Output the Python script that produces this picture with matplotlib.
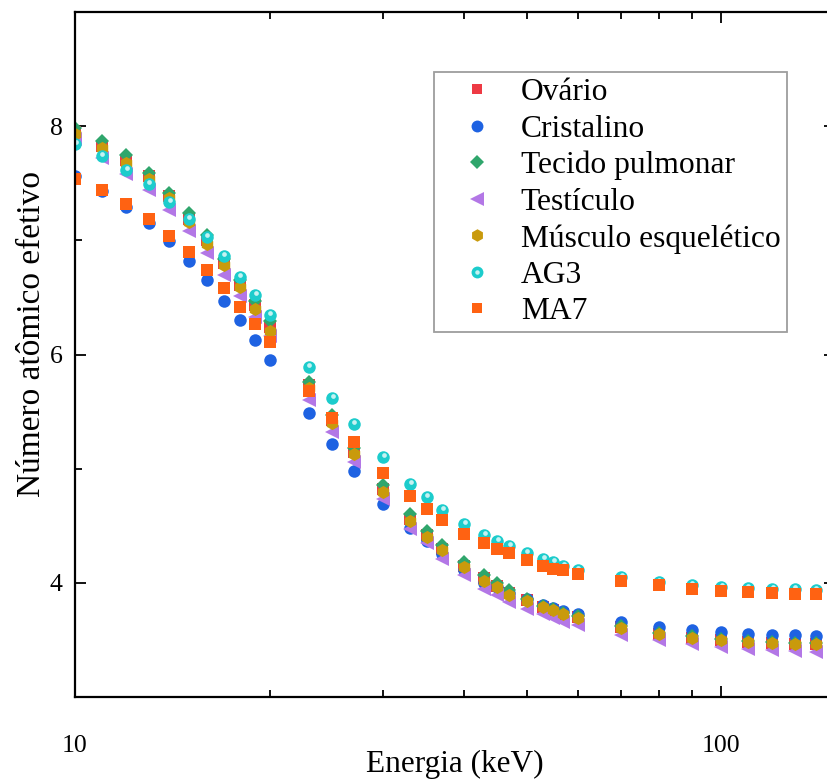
import matplotlib
matplotlib.use("Agg")
import matplotlib.pyplot as plt
from matplotlib.ticker import FixedLocator, NullFormatter, FixedFormatter
from matplotlib.transforms import offset_copy
from matplotlib.legend_handler import HandlerTuple

plt.rcParams['font.family'] = ['Liberation Serif', 'DejaVu Serif']

energia = [10, 11, 12, 13, 14, 15, 16, 17, 18, 19, 20, 23, 25, 27, 30, 33, 35, 37,
           40, 43, 45, 47, 50, 53, 55, 57, 60, 70, 80, 90, 100, 110, 120, 130, 140]

ovario = [7.95, 7.83, 7.70, 7.56, 7.39, 7.19, 7.00, 6.80, 6.61, 6.43, 6.24, 5.73, 5.43,
          5.15, 4.82, 4.56, 4.42, 4.30, 4.15, 4.04, 3.97, 3.91, 3.85, 3.79, 3.76, 3.73,
          3.70, 3.61, 3.55, 3.52, 3.50, 3.485, 3.475, 3.465, 3.46]
cristalino = [7.56, 7.43, 7.29, 7.15, 6.99, 6.82, 6.65, 6.47, 6.30, 6.13, 5.95, 5.485,
              5.22, 4.98, 4.69, 4.48, 4.37, 4.25, 4.11, 4.00, 3.96, 3.91, 3.86, 3.81,
              3.78, 3.75, 3.73, 3.66, 3.61, 3.585, 3.57, 3.555, 3.54, 3.54, 3.535]
tecido_pulmonar = [7.985, 7.87, 7.745, 7.59, 7.415, 7.24, 7.05, 6.84, 6.65, 6.47, 6.29,
                   5.76, 5.47, 5.18, 4.86, 4.60, 4.45, 4.33, 4.18, 4.07, 4.00, 3.94,
                   3.86, 3.80, 3.77, 3.74, 3.71, 3.62, 3.56, 3.53, 3.51, 3.49, 3.48,
                   3.47, 3.47]
testiculo = [7.89, 7.72, 7.58, 7.44, 7.27, 7.08, 6.89, 6.70, 6.51, 6.33, 6.16, 5.60, 5.32,
             5.06, 4.73, 4.47, 4.345, 4.21, 4.07, 3.95, 3.89, 3.83, 3.77, 3.73, 3.69,
             3.66, 3.63, 3.54, 3.50, 3.46, 3.44, 3.42, 3.41, 3.40, 3.395]
musculo = [7.93, 7.81, 7.68, 7.54, 7.37, 7.16, 6.97, 6.78, 6.59, 6.40, 6.21, 5.71, 5.40,
           5.13, 4.80, 4.54, 4.40, 4.29, 4.14, 4.02, 3.96, 3.89, 3.84, 3.79, 3.76, 3.73,
           3.69, 3.605, 3.55, 3.52, 3.50, 3.48, 3.47, 3.46, 3.46]
ag3 = [7.84, 7.74, 7.62, 7.49, 7.34, 7.19, 7.03, 6.86, 6.68, 6.52, 6.35, 5.89, 5.62, 5.39,
       5.10, 4.87, 4.75, 4.64, 4.515, 4.42, 4.37, 4.32, 4.26, 4.21, 4.18, 4.15, 4.11,
       4.05, 4.01, 3.98, 3.965, 3.955, 3.95, 3.945, 3.94]
ma7 = [7.535, 7.44, 7.32, 7.19, 7.04, 6.90, 6.74, 6.58, 6.42, 6.27, 6.11, 5.68, 5.44, 5.23,
       4.965, 4.76, 4.65, 4.55, 4.43, 4.345, 4.30, 4.26, 4.20, 4.15, 4.125, 4.11, 4.08,
       4.015, 3.98, 3.945, 3.93, 3.92, 3.91, 3.905, 3.905]

labels = ["Ovário", "Cristalino", "Tecido pulmonar", "Testículo",
          "Músculo esquelético", "AG3", "MA7"]
x_major = [10, 100]
x_major_labels = ["10", "100"]
y_major = [4, 6, 8]

fig = plt.figure(figsize=(8.28, 7.81), dpi=100)
ax = fig.add_axes([75 / 828, 84 / 781, 760 / 828, 685 / 781])

styles = [
    dict(marker='s', color='#ee3a44', ms=8.0),
    dict(marker='o', color='#1e62e2', ms=9.0),
    dict(marker='D', color='#2fa66c', ms=7.5),
    dict(marker='<', color='#b377e6', ms=10.0),
    dict(marker='h', color='#c99a0c', ms=9.5),
    dict(marker='o', color='#1ccccc', ms=9.0),
    dict(marker='s', color='#ff6212', ms=8.0),
]
series = [ovario, cristalino, tecido_pulmonar, testiculo, musculo, ag3, ma7]

handles = []
for vals, st in zip(series, styles):
    h, = ax.plot(energia, vals, linestyle='none', marker=st['marker'], ms=st['ms'],
                 color=st['color'], markeredgewidth=0)
    handles.append(h)
    if vals is ag3:
        hl, = ax.plot(energia, vals, linestyle='none', marker='o', ms=3.4,
                      color='white', alpha=0.75, markeredgewidth=0,
                      transform=offset_copy(ax.transData, fig=fig, x=0.5, y=2.0, units='dots'))
        handles[-1] = (h, hl)

ax.set_xscale('log')
ax.set_xlim(10, 150)
ax.set_ylim(3, 9)

ax.xaxis.set_major_locator(FixedLocator(x_major))
ax.xaxis.set_major_formatter(FixedFormatter(x_major_labels))
ax.xaxis.set_minor_locator(FixedLocator([20, 30, 40, 50, 60, 70, 80, 90, 200]))
ax.xaxis.set_minor_formatter(NullFormatter())
ax.yaxis.set_major_locator(FixedLocator(y_major))
ax.yaxis.set_minor_locator(FixedLocator([3, 5, 7, 9]))

ax.tick_params(which='both', direction='in', top=True, right=True, width=1.3,
               labelsize=18.5, colors='black')
ax.tick_params(which='major', length=8)
ax.tick_params(which='minor', length=5)
ax.tick_params(axis='x', which='major', pad=27)
ax.tick_params(axis='y', which='major', pad=9)
for sp in ax.spines.values():
    sp.set_linewidth(1.6)

ax.set_xlabel("Energia (keV)", fontsize=22.5, labelpad=-5)
ax.set_ylabel("Número atômico efetivo", fontsize=24)
ax.yaxis.set_label_coords(-0.037, 0.53)

leg = ax.legend(handles, labels, loc='upper left',
                bbox_to_anchor=((434 - 75) / 760, (697 - 72) / 685),
                borderaxespad=0, frameon=True, fancybox=False, fontsize=22.7,
                markerscale=0.95, labelspacing=0.23, handletextpad=0.25,
                handlelength=2.3, borderpad=0.2,
                handler_map={tuple: HandlerTuple(ndivide=1)})
leg.get_frame().set_edgecolor('#858585')
leg.get_frame().set_linewidth(1.3)

fig.savefig("out.png", dpi=100)
